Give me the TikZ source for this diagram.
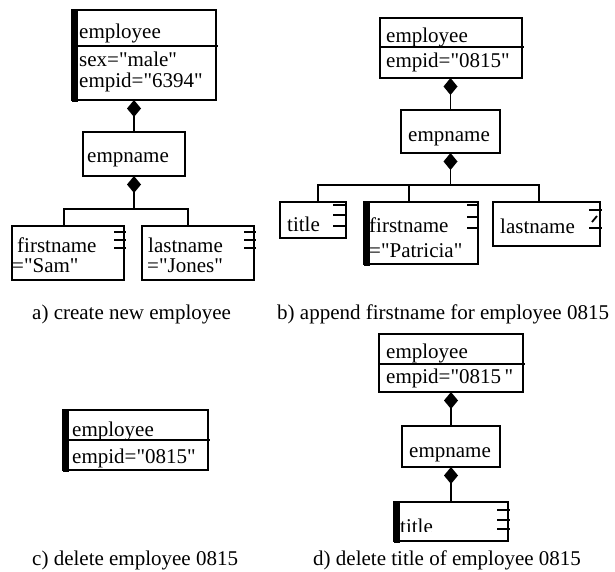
\documentclass[tikz,border=0pt]{standalone}
\usepackage{fontspec}
\setmainfont{Liberation Serif}[Ligatures=TeXOff]
\usetikzlibrary{arrows.meta,calc}
\begin{document}
\begin{tikzpicture}[x=1pt,y=-1pt,
  box/.style={draw, line width=1.8pt, rectangle, inner sep=0pt, outer sep=0pt, anchor=north west},
  lbl/.style={anchor=base west, inner sep=0pt, font=\fontsize{21}{25}\selectfont},
  captxt/.style={anchor=base west, inner sep=0pt, font=\fontsize{21}{25}\selectfont},
  conn/.style={line width=1.8pt},
  comp/.style={line width=1.8pt, {Diamond[length=17pt,width=14pt]}-},
  bar/.style={line width=6pt, shorten <=-0.5pt, shorten >=-2pt},
  tick/.style={line width=1.8pt}]
\useasboundingbox (0,0) rectangle (615,572);

% ---------------- panel a ----------------
\node[box, minimum width=144pt, minimum height=90pt] (empA) at (72,10) {};
\draw[bar] ($(empA.north west)+(2.5,0)$) -- ($(empA.south west)+(2.5,0)$);
\draw[conn] (empA.west |- 0,46) -- ($(empA.east |- 0,46)+(2,0)$);
\node[lbl] (empAt1) at (79,39) {employee};
\node[lbl] (empAt2) at (79,67) {sex="male"};
\node[lbl] (empAt3) at (79,88) {empid="6394"};

\node[box, minimum width=102pt, minimum height=44pt] (enA) at (83,132) {};
\node[lbl] (enAt) at (87,163) {empname};
\draw[comp] (enA.north |- empA.south) -- (enA.north);

\node[box, minimum width=112pt, minimum height=54pt] (fnA) at (12,226) {};
\node[lbl] (fnAt1) at (17,252) {firstname};
\node[lbl] (fnAt2) at (12,272) {="Sam"};
\foreach \yy in {232,240,248}
  \draw[tick] ($(fnA.east |- 0,\yy)+(-10,0)$) -- ($(fnA.east |- 0,\yy)+(1.5,0)$);

\node[box, minimum width=112pt, minimum height=54pt] (lnA) at (142,226) {};
\node[lbl] (lnAt1) at (148,252) {lastname};
\node[lbl] (lnAt2) at (147,272) {="Jones"};
\foreach \yy in {232,240,248}
  \draw[tick] ($(lnA.east |- 0,\yy)+(-10,0)$) -- ($(lnA.east |- 0,\yy)+(1.5,0)$);

\coordinate (ja1) at (64,209);
\coordinate (ja2) at (188,209);
\draw[comp] (enA.south) -- (enA.south |- ja1);
\draw[conn] (ja1 |- fnA.north) -- (ja1) -- (ja2) -- (ja2 |- lnA.north);

\node[captxt] (capA) at (32,319) {a) create new employee};

% ---------------- panel b ----------------
\node[box, minimum width=142pt, minimum height=60pt] (empB) at (380,18) {};
\draw[conn] (empB.west |- 0,47) -- ($(empB.east |- 0,47)+(2,0)$);
\node[lbl] (empBt1) at (386,43) {employee};
\node[lbl] (empBt2) at (386,68) {empid="0815"};

\node[box, minimum width=99pt, minimum height=43pt] (enB) at (401,110) {};
\node[lbl] (enBt) at (408,142) {empname};
\draw[comp] (enB.north |- empB.south) -- (enB.north);

\node[box, minimum width=66pt, minimum height=36pt] (tiB) at (280,202) {};
\node[lbl] (tiBt) at (287,231) {title};
\foreach \yy in {205,215,226}
  \draw[tick] ($(tiB.east |- 0,\yy)+(-13,0)$) -- ($(tiB.east |- 0,\yy)+(1,0)$);

\node[box, minimum width=114pt, minimum height=62pt] (fnB) at (364,202) {};
\draw[bar] ($(fnB.north west)+(2.5,0)$) -- ($(fnB.south west)+(2.5,0)$);
\node[lbl] (fnBt1) at (369,232) {firstname};
\node[lbl] (fnBt2) at (369,257) {="Patricia"};
\foreach \yy in {205,217,228}
  \draw[tick] ($(fnB.east |- 0,\yy)+(-11,0)$) -- ($(fnB.east |- 0,\yy)+(1,0)$);

\node[box, minimum width=107pt, minimum height=44pt] (lnB) at (493,202) {};
\node[lbl] (lnBt) at (500,233) {lastname};
\foreach \yy in {210,228}
  \draw[tick] ($(lnB.east |- 0,\yy)+(-11,0)$) -- ($(lnB.east |- 0,\yy)+(1.5,0)$);
\draw[tick] ($(lnB.east |- 0,222)+(-8,0)$) -- ($(lnB.east |- 0,216)+(-3,0)$);

\coordinate (jb1) at (318,185);
\coordinate (jb2) at (539,185);
\coordinate (jb3) at (409,185);
\draw[comp] (enB.south) -- (enB.south |- jb1);
\draw[conn] (jb1 |- tiB.north) -- (jb1) -- (jb2) -- (jb2 |- lnB.north);
\draw[conn] (jb3) -- (jb3 |- fnB.north);

\node[captxt] (capB) at (277,319) {b) append firstname for employee 0815};

% ---------------- panel c ----------------
\node[box, minimum width=145pt, minimum height=60pt] (empC) at (63,410) {};
\draw[bar] ($(empC.north west)+(2.5,0)$) -- ($(empC.south west)+(2.5,0)$);
\draw[conn] (empC.west |- 0,440) -- ($(empC.east |- 0,440)+(2,0)$);
\node[lbl] (empCt1) at (72,436) {employee};
\node[lbl] (empCt2) at (72,463) {empid="0815"};

\node[captxt] (capC) at (32,565) {c) delete employee 0815};

% ---------------- panel d ----------------
\node[box, minimum width=144pt, minimum height=58pt] (empD) at (379,334) {};
\draw[conn] (empD.west |- 0,364) -- ($(empD.east |- 0,364)+(2,0)$);
\node[lbl] (empDt1) at (386,358) {employee};
\node[lbl] (empDt2) at (386,383) {empid="0815\,"};

\node[box, minimum width=98pt, minimum height=41pt] (enD) at (402,426) {};
\node[lbl] (enDt) at (409,457) {empname};
\draw[comp] (enD.north |- empD.south) -- (enD.north);

\node[box, minimum width=114pt, minimum height=39pt] (tiD) at (394,502) {};
\draw[bar] ($(tiD.north west)+(2.5,0)$) -- ($(tiD.south west)+(2.5,0)$);
\begin{scope}
  \clip (397,503) rectangle (507,531);
  \node[lbl] (tiDt) at (400,533) {title};
\end{scope}
\foreach \yy in {510,520,529}
  \draw[tick] ($(tiD.east |- 0,\yy)+(-11,0)$) -- ($(tiD.east |- 0,\yy)+(1.5,0)$);
\draw[comp] (enD.south) -- (enD.south |- tiD.north);

\node[captxt] (capD) at (313,565) {d) delete title of employee 0815};
\end{tikzpicture}
\end{document}
